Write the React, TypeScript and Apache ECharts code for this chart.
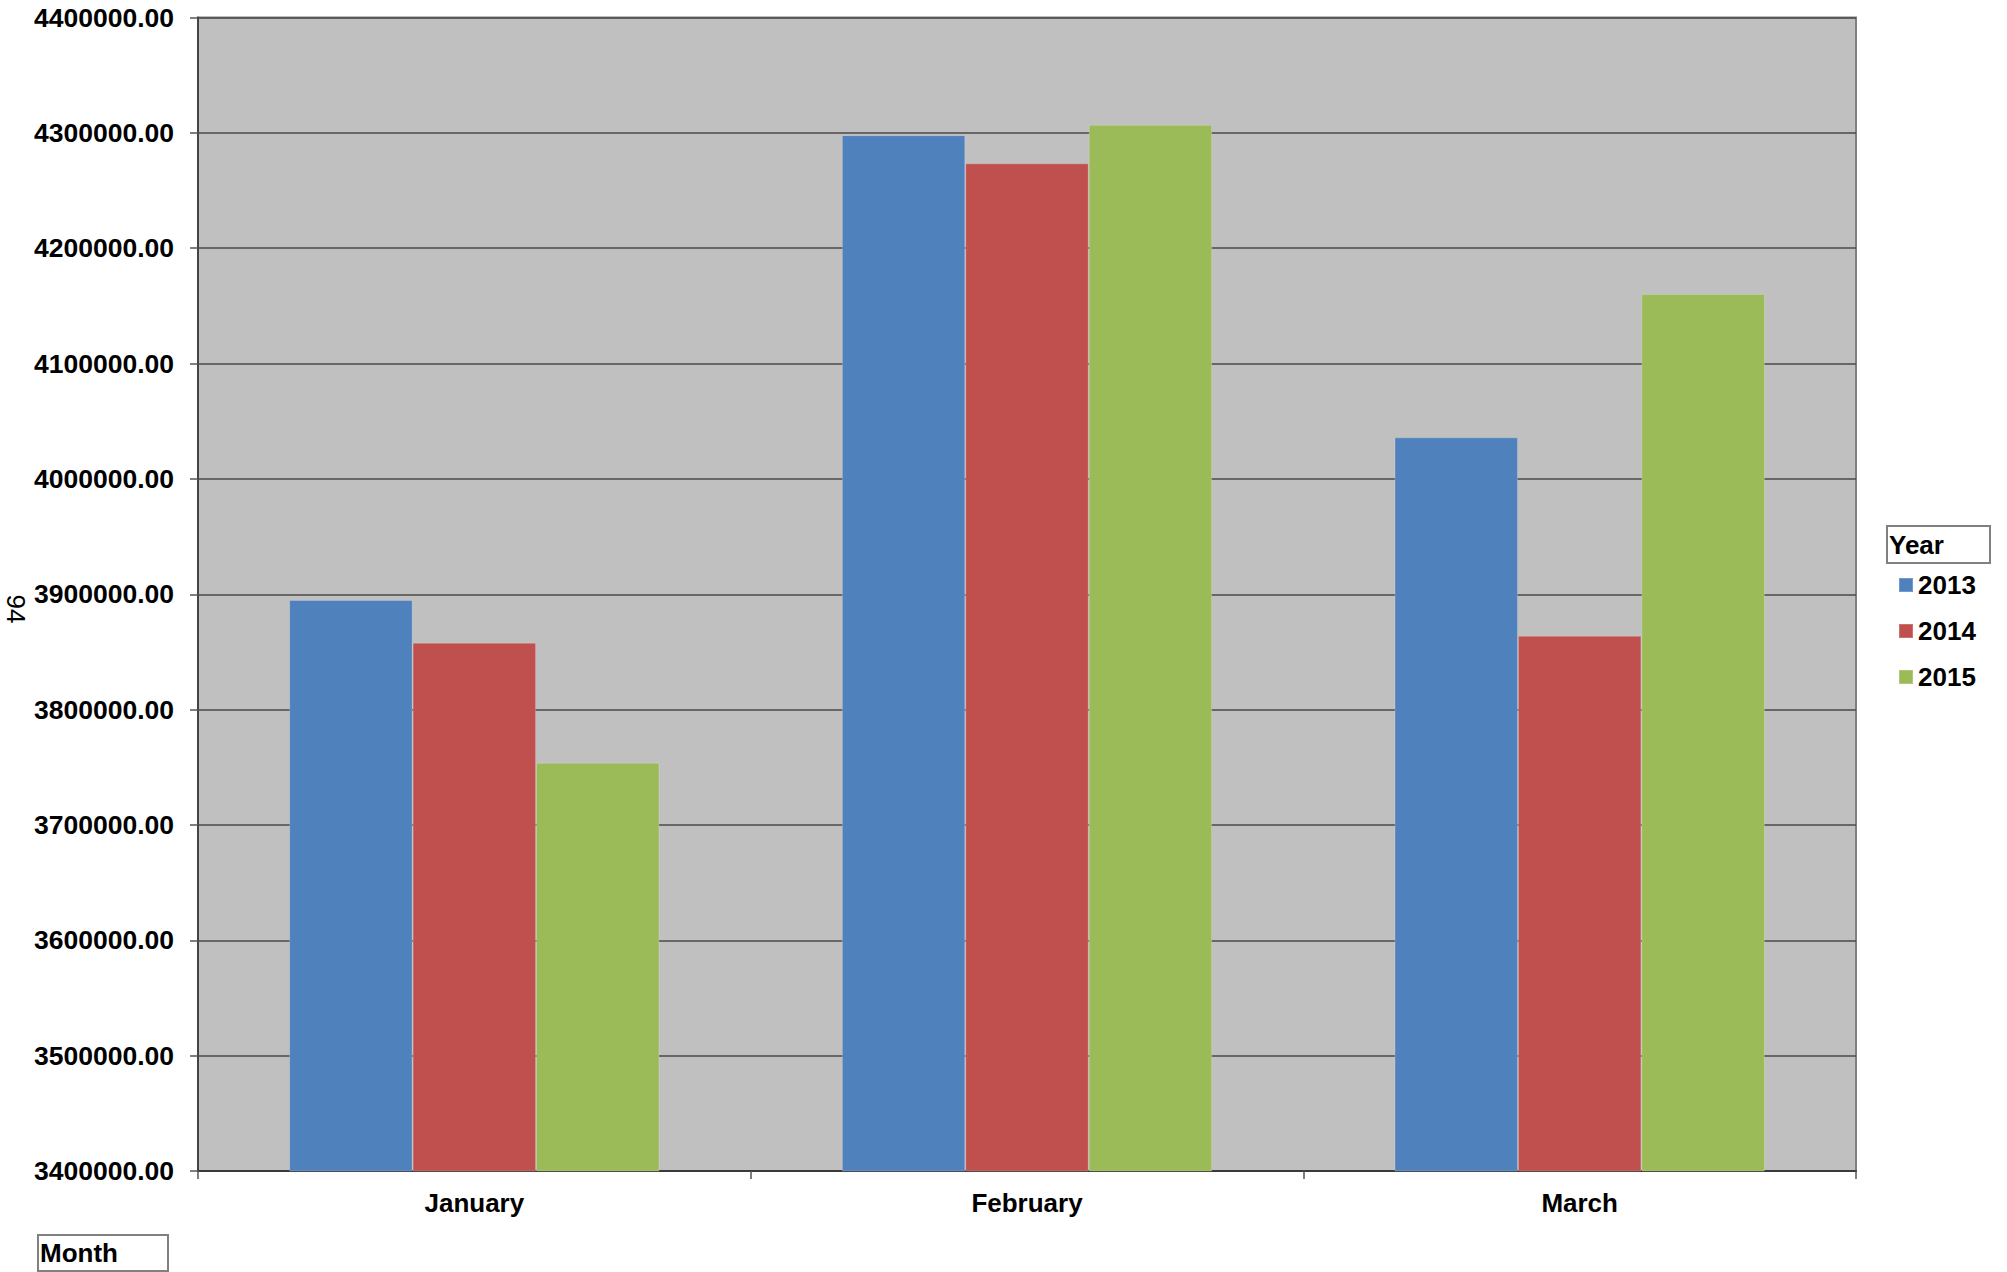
import React, { useEffect, useRef } from "react";
import * as echarts from "echarts";

const months = ["January", "February", "March"];
const years = ["2013", "2014", "2015"];
const values2013 = [3895000, 4298000, 4036000];
const values2014 = [3858000, 4273600, 3864000];
const values2015 = [3754000, 4307000, 4160400];
const seriesValues = [values2013, values2014, values2015];
const colors = ["#4F81BD", "#C0504D", "#9BBB59"];
const yMin = 3400000;
const yMax = 4400000;
const yInterval = 100000;
const yAxisName = "94";
const xAxisTitle = "Month";
const legendTitle = "Year";

const FONT = "'Liberation Sans', Arial, Helvetica, sans-serif";

export default function App() {
  const ref = useRef<HTMLDivElement>(null);
  useEffect(() => {
    if (!ref.current) return;
    const chart = echarts.init(ref.current, undefined, { renderer: "svg" });
    chart.setOption({
      animation: false,
      backgroundColor: "#ffffff",
      textStyle: { fontFamily: FONT },
      grid: {
        left: 198,
        top: 17.5,
        width: 1658,
        height: 1153.5,
        show: true,
        backgroundColor: "#C0C0C0",
        borderColor: "#808080",
        borderWidth: 2,
        containLabel: false,
        outerBoundsMode: "none",
      },
      legend: {
        data: years,
        orient: "vertical",
        left: 1893,
        top: 567,
        itemWidth: 14,
        itemHeight: 14,
        itemGap: 20,
        icon: "rect",
        textStyle: { fontFamily: FONT, fontSize: 26, fontWeight: "bold", color: "#000" },
      },
      xAxis: {
        type: "category",
        data: months,
        axisLine: { show: true, lineStyle: { color: "#3a3a3a", width: 2 } },
        axisTick: { show: true, length: 8, alignWithLabel: false, lineStyle: { color: "#555", width: 1.5 } },
        axisLabel: {
          margin: 19,
          fontFamily: FONT,
          fontSize: 26,
          fontWeight: "bold",
          color: "#000",
        },
        splitLine: { show: false },
      },
      yAxis: {
        type: "value",
        min: yMin,
        max: yMax,
        interval: yInterval,
        axisLine: { show: true, lineStyle: { color: "#444", width: 2 } },
        axisTick: { show: true, length: 8, lineStyle: { color: "#555", width: 1.5 } },
        axisLabel: {
          margin: 24,
          fontFamily: FONT,
          fontSize: 26.5,
          fontWeight: "bold",
          color: "#000",
          formatter: (v: number) => v.toFixed(2),
        },
        splitLine: { show: true, lineStyle: { color: "#4a4a4a", width: 1.5 } },
      },
      series: years.map((y, i) => ({
        name: y,
        type: "bar",
        data: seriesValues[i],
        barGap: "0%",
        barCategoryGap: "33%",
        itemStyle: {
          color: colors[i],
          borderColor: "rgba(255,255,255,0.2)",
          borderWidth: 1,
        },
      })),
      graphic: [
        {
          type: "text",
          x: 16,
          y: 609,
          rotation: -Math.PI / 2,
          style: {
            text: yAxisName,
            fontFamily: FONT,
            fontSize: 26,
            fill: "#000",
            align: "center",
            verticalAlign: "middle",
          },
          z: 11,
        },
        {
          type: "rect",
          shape: { x: 1887, y: 526, width: 103, height: 37 },
          style: { fill: "#ffffff", stroke: "#808080", lineWidth: 2 },
          z: 10,
        },
        {
          type: "text",
          x: 1889,
          y: 545,
          style: {
            text: legendTitle,
            fontFamily: FONT,
            fontSize: 26,
            fontWeight: "bold",
            fill: "#000",
            verticalAlign: "middle",
            align: "left",
          },
          z: 11,
        },
        {
          type: "rect",
          shape: { x: 38, y: 1235, width: 130, height: 36 },
          style: { fill: "#ffffff", stroke: "#808080", lineWidth: 2 },
          z: 10,
        },
        {
          type: "text",
          x: 40,
          y: 1253,
          style: {
            text: xAxisTitle,
            fontFamily: FONT,
            fontSize: 26,
            fontWeight: "bold",
            fill: "#000",
            verticalAlign: "middle",
            align: "left",
          },
          z: 11,
        },
      ],
    });
    return () => chart.dispose();
  }, []);
  return (
    <div
      ref={ref}
      style={{ position: "fixed", left: 0, top: 0, width: 2007, height: 1272 }}
    />
  );
}
